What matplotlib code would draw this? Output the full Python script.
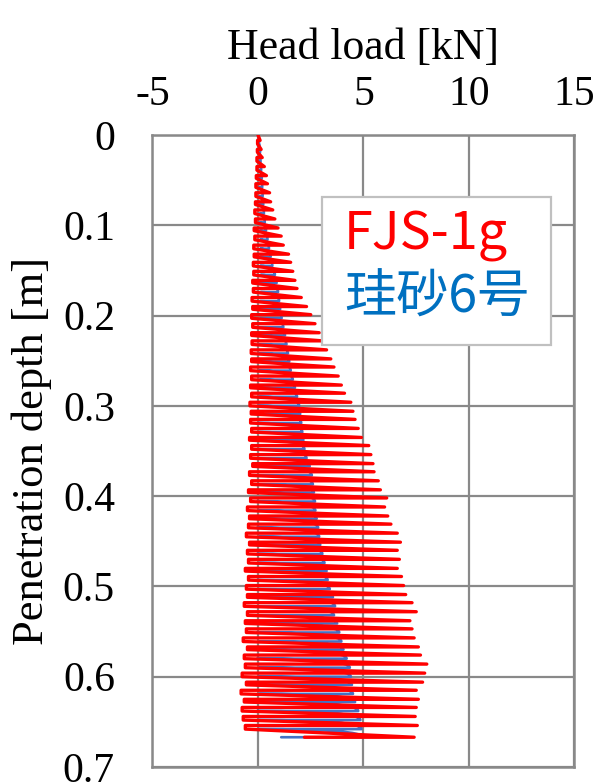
import matplotlib
matplotlib.use("Agg")
import matplotlib.pyplot as plt
from matplotlib.path import Path
from matplotlib.patches import PathPatch, Rectangle

plt.rcParams["axes.unicode_minus"] = False

# Penetration depth at which each loading cycle starts [m]
depth = [0.000, 0.010, 0.019, 0.029, 0.039, 0.048, 0.058, 0.068, 0.077, 0.087,
         0.097, 0.106, 0.116, 0.126, 0.135, 0.145, 0.155, 0.164, 0.174, 0.184,
         0.193, 0.203, 0.213, 0.222, 0.232, 0.242, 0.251, 0.261, 0.271, 0.280,
         0.290, 0.300, 0.309, 0.319, 0.329, 0.338, 0.348, 0.358, 0.367, 0.377,
         0.387, 0.396, 0.406, 0.416, 0.425, 0.435, 0.445, 0.454, 0.464, 0.474,
         0.483, 0.493, 0.503, 0.512, 0.522, 0.532, 0.541, 0.551, 0.561, 0.570,
         0.580, 0.590, 0.600, 0.609, 0.619, 0.628, 0.638, 0.648, 0.658, 0.667]

# FJS-1g: depth at which each cycle reaches its peak load [m]
fjs_peak_depth = [0.006, 0.016, 0.025, 0.035, 0.045, 0.054, 0.064, 0.074, 0.083, 0.093,
                  0.103, 0.112, 0.122, 0.132, 0.141, 0.151, 0.161, 0.170, 0.180, 0.190,
                  0.199, 0.209, 0.219, 0.228, 0.238, 0.248, 0.257, 0.267, 0.277, 0.286,
                  0.296, 0.306, 0.315, 0.325, 0.335, 0.344, 0.354, 0.364, 0.373, 0.383,
                  0.393, 0.402, 0.412, 0.422, 0.431, 0.441, 0.451, 0.460, 0.470, 0.480,
                  0.489, 0.499, 0.509, 0.518, 0.528, 0.538, 0.547, 0.557, 0.567, 0.576,
                  0.586, 0.596, 0.606, 0.615, 0.625, 0.634, 0.644, 0.654, 0.667]
# FJS-1g: peak head load of each cycle [kN]
fjs_peak = [0.10, 0.15, 0.20, 0.30, 0.40, 0.45, 0.55, 0.60, 0.70, 0.80,
            0.95, 1.10, 1.20, 1.45, 1.55, 1.65, 1.75, 1.85, 2.05, 2.30,
            2.50, 2.70, 2.90, 3.05, 3.25, 3.45, 3.60, 3.80, 3.95, 4.10,
            4.40, 4.50, 4.60, 4.75, 4.90, 5.25, 5.35, 5.45, 5.50, 5.70,
            5.80, 6.10, 6.00, 6.15, 6.30, 6.60, 6.75, 6.60, 6.70, 6.60,
            6.80, 6.90, 7.00, 7.30, 7.50, 7.20, 7.30, 7.40, 7.60, 7.70,
            8.00, 7.90, 7.80, 7.50, 7.60, 7.50, 7.45, 7.55, 7.40]
# FJS-1g: head load at the start of loading / end of unloading [kN]
fjs_low = [0.00, -0.02, -0.03, -0.05, -0.05, -0.08, -0.10, -0.10, -0.12, -0.15,
           -0.12, -0.18, -0.15, -0.20, -0.18, -0.22, -0.20, -0.25, -0.22, -0.28,
           -0.25, -0.30, -0.25, -0.30, -0.28, -0.32, -0.30, -0.35, -0.30, -0.35,
           -0.30, -0.38, -0.32, -0.35, -0.30, -0.40, -0.30, -0.35, -0.25, -0.40,
           -0.30, -0.45, -0.35, -0.50, -0.40, -0.45, -0.55, -0.40, -0.50, -0.45,
           -0.60, -0.45, -0.55, -0.50, -0.65, -0.50, -0.60, -0.55, -0.70, -0.50,
           -0.65, -0.60, -0.75, -0.55, -0.80, -0.65, -0.75, -0.70, -0.60, 2.20]

# 珪砂6号: peak head load of each cycle [kN] (reached at depth[1:])
silica_peak = [0.05, 0.10, 0.12, 0.15, 0.18, 0.20, 0.22, 0.25, 0.28, 0.32,
               0.38, 0.45, 0.52, 0.60, 0.68, 0.80, 0.88, 0.95, 1.00, 1.05,
               1.12, 1.20, 1.28, 1.35, 1.42, 1.48, 1.55, 1.65, 1.75, 1.85,
               1.95, 2.00, 2.05, 2.10, 2.15, 2.20, 2.30, 2.45, 2.55, 2.60,
               2.65, 2.70, 2.72, 2.78, 2.85, 2.90, 2.95, 3.05, 3.15, 3.25,
               3.30, 3.40, 3.55, 3.65, 3.60, 3.75, 3.85, 3.95, 4.05, 4.20,
               4.35, 4.40, 4.45, 4.50, 4.60, 4.75, 4.85, 4.90, 4.96]
# 珪砂6号: head load after unloading [kN]
silica_low = [0.00, 0.02, 0.03, 0.03, 0.05, 0.05, 0.05, 0.06, 0.06, 0.08,
              0.08, 0.08, 0.10, 0.10, 0.10, 0.10, 0.12, 0.10, 0.12, 0.10,
              0.08, 0.10, 0.05, 0.10, 0.08, 0.05, 0.10, 0.05, 0.08, 0.05,
              0.05, 0.00, 0.05, 0.00, 0.05, -0.05, 0.05, 0.00, 0.05, -0.05,
              0.00, 0.05, -0.05, 0.00, 0.05, -0.05, 0.05, 0.00, -0.05, 0.05,
              0.00, -0.05, 0.05, 0.00, -0.05, 0.05, 0.00, -0.05, 0.05, 0.00,
              -0.05, 0.05, 0.00, -0.05, 0.05, 0.00, -0.05, 0.05, 0.00, 1.10]

x_ticks = [-5, 0, 5, 10, 15]
y_ticks = [0, 0.1, 0.2, 0.3, 0.4, 0.5, 0.6, 0.7]
y_tick_labels = ["0", "0.1", "0.2", "0.3", "0.4", "0.5", "0.6", "0.7"]
legend_names = ["FJS-1g", "珪砂6号"]

RED = "#FF0000"
BLUE = "#4472C4"
GRID = "#898989"
SERIF = "Liberation Serif"
SANS = ["Noto Sans CJK JP", "DejaVu Sans"]

fig = plt.figure(figsize=(5.98, 7.83), dpi=100)
ax = fig.add_axes([0.255, 0.0204, 0.7057, 0.8072])

# 珪砂6号: loading curves (flat start, bending down to the peak), flat unloading
verts, codes = [(silica_low[0], depth[0])], [Path.MOVETO]
for i, pk in enumerate(silica_peak):
    verts += [(pk, depth[i]), (pk, depth[i + 1]), (silica_low[i + 1], depth[i + 1])]
    codes += [Path.CURVE3, Path.CURVE3, Path.LINETO]
ax.add_patch(PathPatch(Path(verts, codes), facecolor="none", edgecolor=BLUE,
                       lw=1.9, joinstyle="round", capstyle="round", zorder=3))

# FJS-1g: loading stroke to the peak, unloading stroke back, step to next cycle
fx, fy = [fjs_low[0]], [depth[0]]
n = len(fjs_peak)
for i in range(n):
    fx += [fjs_peak[i], fjs_low[i + 1]]
    fy += [fjs_peak_depth[i], fjs_peak_depth[i]]
    if i + 1 < n:
        fx.append(fjs_low[i + 1])
        fy.append(depth[i + 1])
ax.plot(fx, fy, color=RED, lw=2.4, solid_joinstyle="round",
        solid_capstyle="round", zorder=4)

ax.set_xlim(-5, 15)
ax.set_ylim(0.7, 0)
ax.xaxis.set_ticks_position("top")
ax.set_xticks(x_ticks)
ax.set_yticks(y_ticks)
ax.set_yticklabels(y_tick_labels)
ax.tick_params(axis="both", length=0, labelsize=30)
ax.tick_params(axis="x", pad=15)
ax.tick_params(axis="y", pad=27)
for lab in ax.get_xticklabels() + ax.get_yticklabels():
    lab.set_fontfamily(SERIF)
ax.grid(True, color=GRID, lw=1.6)
ax.set_axisbelow(True)
for sp in ax.spines.values():
    sp.set_color(GRID)
    sp.set_linewidth(1.8)

ax.xaxis.set_label_position("top")
ax.set_xlabel("Head load [kN]", fontsize=31.5, fontfamily=SERIF, labelpad=12)
ax.set_ylabel("Penetration depth [m]", fontsize=32, fontfamily=SERIF, labelpad=8)

# Legend box with coloured series names
ax.add_patch(Rectangle((0.4017, 0.668), 0.5423, 0.234, transform=ax.transAxes,
                       facecolor="white", edgecolor="#C0C0C0", lw=1.6, zorder=5))
ax.text(0.454, 0.842, legend_names[0], transform=ax.transAxes, color=RED,
        fontsize=37.5, fontfamily=SANS, va="center", ha="left", zorder=6)
ax.text(0.454, 0.742, legend_names[1], transform=ax.transAxes, color="#0070C0",
        fontsize=37.5, fontfamily=SANS, va="center", ha="left", zorder=6)

fig.savefig("out.png", dpi=100)
